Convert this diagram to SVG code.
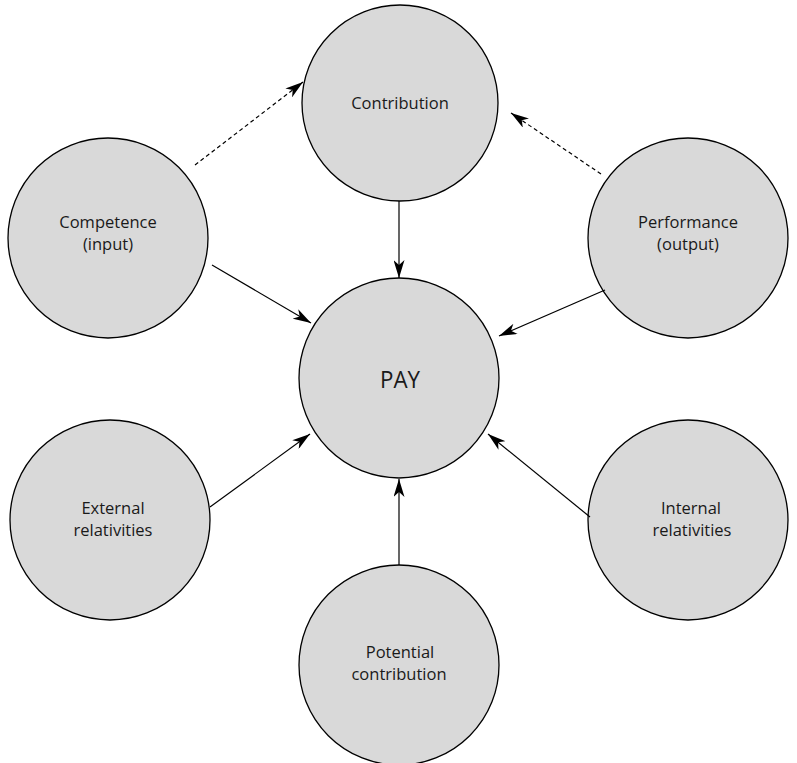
<svg xmlns="http://www.w3.org/2000/svg" width="797" height="763" viewBox="0 0 797 763">
<style>
.node circle{fill:#d9d9d9;stroke:#000;stroke-width:1.3}
.node text{font-family:"Open Sans","Liberation Sans",sans-serif;font-size:16.5px;fill:#1a1a1a;text-anchor:middle}
.conn line{stroke:#000;stroke-width:1.2}
.dash{stroke-dasharray:4 3}
</style>
<defs>
<marker id="ah" viewBox="0 0 18 11" refX="18" refY="5.5" markerWidth="18" markerHeight="11" markerUnits="userSpaceOnUse" orient="auto">
<path d="M0,0 L18,5.5 L0,11 L5,5.5 Z" fill="#000"/>
</marker>
</defs>
<rect width="797" height="763" fill="#fff"/>
<g id="contribution" class="node"><circle cx="400" cy="103" r="98"/><text x="400" y="109">Contribution</text></g>
<g id="competence" class="node"><circle cx="108" cy="238" r="100"/><text x="108" y="228">Competence</text><text x="108" y="250">(input)</text></g>
<g id="performance" class="node"><circle cx="688" cy="238" r="100"/><text x="688" y="228">Performance</text><text x="688" y="250">(output)</text></g>
<g id="pay" class="node"><circle cx="399" cy="378" r="100"/><text x="400" y="388" style="font-size:24px" textLength="40" lengthAdjust="spacingAndGlyphs">PAY</text></g>
<g id="external" class="node"><circle cx="110" cy="520" r="100"/><text x="113" y="514">External</text><text x="113" y="536">relativities</text></g>
<g id="internal" class="node"><circle cx="688" cy="520" r="100"/><text x="691" y="514">Internal</text><text x="692" y="536">relativities</text></g>
<g id="potential" class="node"><circle cx="399" cy="665" r="100"/><text x="400" y="658">Potential</text><text x="399" y="680">contribution</text></g>
<g id="connectors" class="conn">
<line x1="399" y1="201" x2="399" y2="278" marker-end="url(#ah)"/>
<line x1="212" y1="265" x2="311" y2="323" marker-end="url(#ah)"/>
<line x1="605" y1="290" x2="499" y2="336" marker-end="url(#ah)"/>
<line x1="210" y1="507" x2="310" y2="434" marker-end="url(#ah)"/>
<line x1="590" y1="517" x2="488" y2="434" marker-end="url(#ah)"/>
<line x1="399" y1="565" x2="399" y2="479" marker-end="url(#ah)"/>
<line class="dash" x1="195" y1="165" x2="303" y2="82" marker-end="url(#ah)"/>
<line class="dash" x1="601" y1="174" x2="511" y2="113" marker-end="url(#ah)"/>
</g>
</svg>
